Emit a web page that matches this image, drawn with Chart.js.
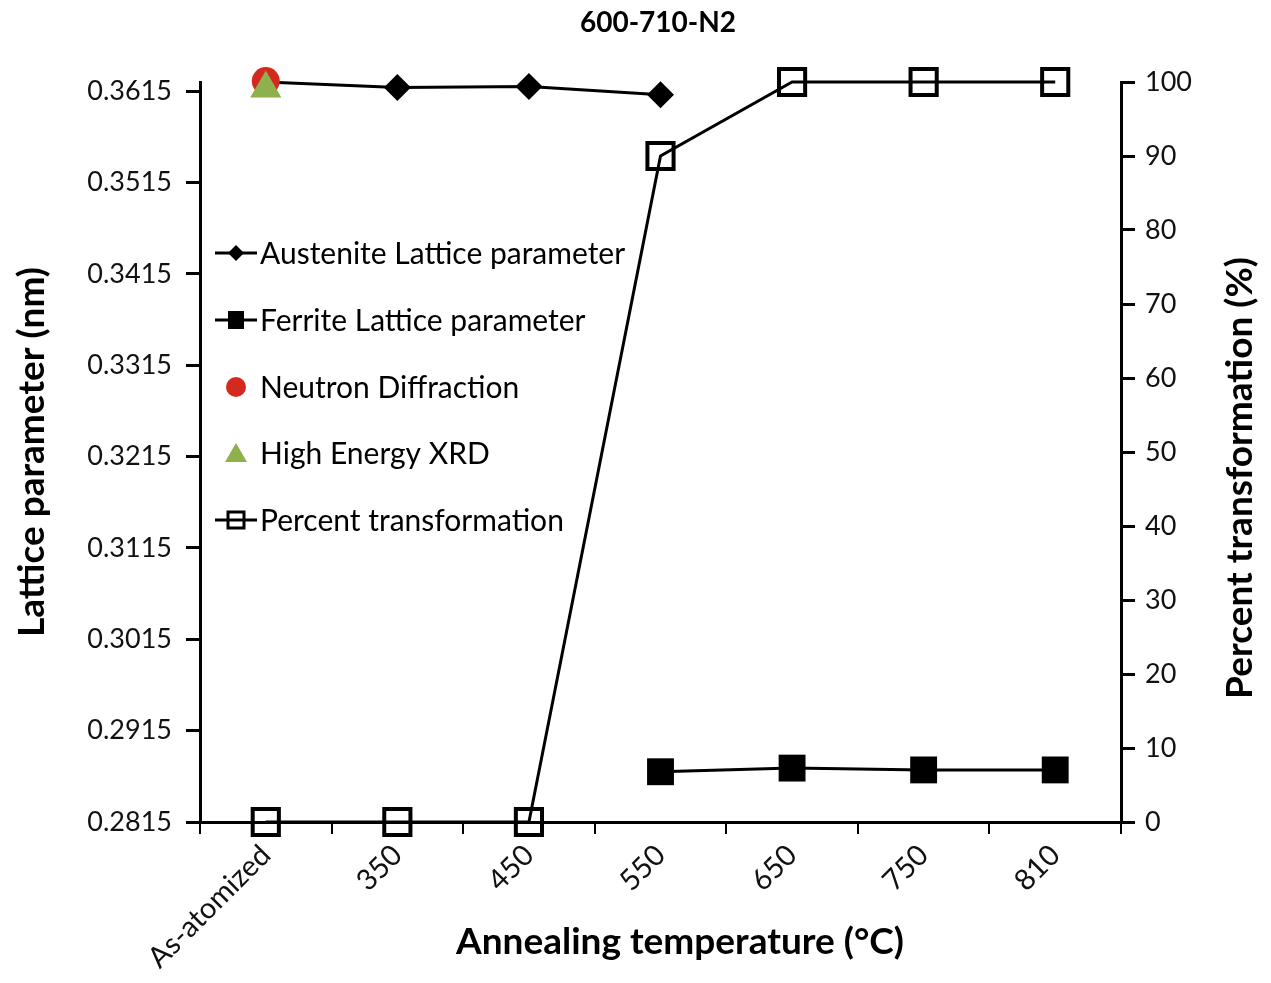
<!DOCTYPE html>
<html>
<head>
<meta charset="utf-8">
<script src="https://cdn.jsdelivr.net/npm/chart.js@4.4.1/dist/chart.umd.min.js"></script>
<style>
  body { margin: 0; background: #fff; }
  canvas { display: block; }
</style>
</head>
<body>
<canvas id="chart" width="1271" height="983"></canvas>
<script>
// data
const categories = ['As-atomized', '350', '450', '550', '650', '750', '810'];
const austenite = [0.3625, 0.3619, 0.3620, 0.3611, null, null, null];
const ferrite = [null, null, null, 0.2870, 0.2874, 0.2872, 0.2872];
const neutron = [0.3626, null, null, null, null, null, null];
const highEnergyXrd = [0.3618, null, null, null, null, null, null];
const percentTransformation = [0, 0, 0, 90, 100, 100, 100];
const latticeTicks = [0.2815, 0.2915, 0.3015, 0.3115, 0.3215, 0.3315, 0.3415, 0.3515, 0.3615];
const percentTicks = [0, 10, 20, 30, 40, 50, 60, 70, 80, 90, 100];

const FONT = 'Lato, "Open Sans", sans-serif';
const RED = '#d4291f';
const GREEN = '#8eb04d';

// legend symbols, drawn by hand (legend sits inside the plot)
function drawSymbol(ctx, kind, x, y) {
  ctx.save();
  ctx.fillStyle = '#000';
  ctx.strokeStyle = '#000';
  if (kind === 'diamond' || kind === 'square' || kind === 'open') {
    ctx.lineWidth = 3;
    ctx.beginPath();
    ctx.moveTo(x - 21, y);
    ctx.lineTo(x + 21, y);
    ctx.stroke();
  }
  ctx.beginPath();
  if (kind === 'diamond') {
    ctx.moveTo(x - 8, y); ctx.lineTo(x, y - 8); ctx.lineTo(x + 8, y); ctx.lineTo(x, y + 8);
    ctx.closePath(); ctx.fill();
  } else if (kind === 'square') {
    ctx.rect(x - 8, y - 9, 16, 18); ctx.fill();
  } else if (kind === 'open') {
    ctx.lineWidth = 3;
    ctx.rect(x - 8, y - 8, 16, 16); ctx.stroke();
  } else if (kind === 'circle') {
    ctx.fillStyle = RED;
    ctx.arc(x, y, 10, 0, Math.PI * 2); ctx.fill();
  } else if (kind === 'triangle') {
    ctx.fillStyle = GREEN;
    ctx.moveTo(x, y - 10); ctx.lineTo(x + 11, y + 9); ctx.lineTo(x - 11, y + 9);
    ctx.closePath(); ctx.fill();
  }
  ctx.restore();
}

const insideLegend = {
  id: 'insideLegend',
  afterDatasetsDraw(chart) {
    const ctx = chart.ctx;
    const left = chart.chartArea.left;
    const rows = [253, 320, 387, 453, 520];
    ctx.save();
    ctx.font = '30px ' + FONT;
    ctx.fillStyle = '#000';
    ctx.textAlign = 'left';
    ctx.textBaseline = 'middle';
    chart.data.datasets.forEach((ds, i) => {
      drawSymbol(ctx, ds.legendSymbol, left + 36, rows[i]);
      ctx.fillText(ds.label, left + 60, rows[i] + 1);
    });
    ctx.restore();
  }
};

const axisTitles = {
  id: 'axisTitles',
  afterDraw(chart) {
    const ctx = chart.ctx;
    const a = chart.chartArea;
    ctx.save();
    ctx.fillStyle = '#000';
    ctx.textAlign = 'center';
    ctx.textBaseline = 'middle';
    ctx.font = 'bold 28px ' + FONT;
    ctx.fillText('600-710-N2', 658, 23);
    ctx.font = 'bold 37px ' + FONT;
    ctx.fillText('Annealing temperature (\u00B0C)', 680, 942);
    ctx.translate(32, 452);
    ctx.rotate(-Math.PI / 2);
    ctx.fillText('Lattice parameter (nm)', 0, 0);
    ctx.restore();
    ctx.save();
    ctx.fillStyle = '#000';
    ctx.textAlign = 'center';
    ctx.textBaseline = 'middle';
    ctx.font = 'bold 37px ' + FONT;
    ctx.translate(1240, 478);
    ctx.rotate(-Math.PI / 2);
    ctx.fillText('Percent transformation (%)', 0, 0);
    ctx.restore();
  }
};

function fixBox(size) {
  return function (scale) {
    if (scale.isHorizontal()) scale.height = size; else scale.width = size;
    scale.paddingLeft = 0; scale.paddingRight = 0;
    scale.paddingTop = 0; scale.paddingBottom = 0;
  };
}

new Chart(document.getElementById('chart'), {
  type: 'line',
  data: {
    labels: categories,
    datasets: [
      {
        label: 'Austenite Lattice parameter', data: austenite, yAxisID: 'y', order: 2,
        legendSymbol: 'diamond',
        borderColor: '#000', borderWidth: 3,
        pointStyle: 'rectRot', pointRadius: 13.5, pointBackgroundColor: '#000', pointBorderWidth: 0
      },
      {
        label: 'Ferrite Lattice parameter', data: ferrite, yAxisID: 'y', order: 3,
        legendSymbol: 'square',
        borderColor: '#000', borderWidth: 3,
        pointStyle: 'rect', pointRadius: 19, pointBackgroundColor: '#000', pointBorderWidth: 0
      },
      {
        label: 'Neutron Diffraction', data: neutron, yAxisID: 'y', order: 1,
        legendSymbol: 'circle', showLine: false,
        pointStyle: 'circle', pointRadius: 14, pointBackgroundColor: RED, pointBorderWidth: 0
      },
      {
        label: 'High Energy XRD', data: highEnergyXrd, yAxisID: 'y', order: 0,
        legendSymbol: 'triangle', showLine: false,
        pointStyle: 'triangle', pointRadius: 18, pointBackgroundColor: GREEN, pointBorderWidth: 0
      },
      {
        label: 'Percent transformation', data: percentTransformation, yAxisID: 'y2', order: 4,
        legendSymbol: 'open',
        borderColor: '#000', borderWidth: 3,
        pointStyle: 'rect', pointRadius: 18.5, pointBackgroundColor: 'rgba(0,0,0,0)',
        pointBorderColor: '#000', pointBorderWidth: 4
      }
    ]
  },
  options: {
    responsive: false,
    animation: false,
    clip: false,
    layout: { padding: { top: 82, left: 0, right: 0, bottom: 0 } },
    plugins: { legend: { display: false }, title: { display: false }, tooltip: { enabled: false } },
    elements: { line: { tension: 0 } },
    scales: {
      x: {
        type: 'category',
        offset: true,
        afterFit: fixBox(161),
        border: { display: true, color: '#000', width: 3 },
        grid: { offset: true, drawOnChartArea: false, drawTicks: true, tickLength: 12, color: '#000', lineWidth: 2 },
        ticks: { color: '#111', font: { family: FONT, size: 29 }, minRotation: 45, maxRotation: 45, autoSkip: false, padding: 4 }
      },
      y: {
        position: 'left',
        min: 0.2815, max: 0.3625,
        afterFit: fixBox(200),
        afterBuildTicks: (s) => { s.ticks = latticeTicks.map(v => ({ value: v })); },
        border: { display: true, color: '#000', width: 3 },
        grid: { drawOnChartArea: false, drawTicks: true, tickLength: 14, color: '#000', lineWidth: 3 },
        ticks: { color: '#111', font: { family: FONT, size: 27 }, padding: 14, callback: (v) => v.toFixed(4) }
      },
      y2: {
        position: 'right',
        min: 0, max: 100,
        afterFit: fixBox(150),
        afterBuildTicks: (s) => { s.ticks = percentTicks.map(v => ({ value: v })); },
        border: { display: true, color: '#000', width: 3 },
        grid: { drawOnChartArea: false, drawTicks: true, tickLength: 14, color: '#000', lineWidth: 3 },
        ticks: { color: '#111', font: { family: FONT, size: 27 }, padding: 10 }
      }
    }
  },
  plugins: [insideLegend, axisTitles]
});
</script>
</body>
</html>
